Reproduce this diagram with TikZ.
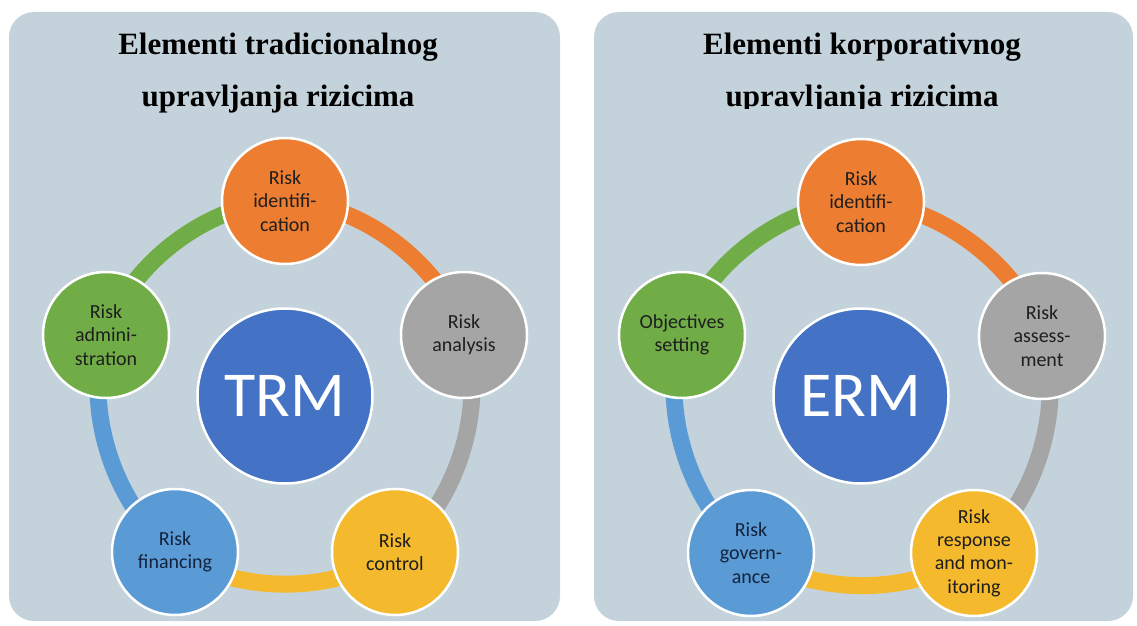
\documentclass[tikz,border=0pt]{standalone}
\usepackage{fontspec}
\newfontfamily\titlefont{Liberation Serif}
\newfontfamily\calib{Carlito}
\definecolor{panelbg}{HTML}{C4D3DB}
\definecolor{corange}{HTML}{ED7D31}
\definecolor{cgray}{HTML}{A5A5A5}
\definecolor{cyellow}{HTML}{F5B92E}
\definecolor{cblue}{HTML}{5B9BD5}
\definecolor{cgreen}{HTML}{70AD47}
\definecolor{ccenter}{HTML}{4472C4}
\definecolor{ctext}{HTML}{1E1E1E}
\definecolor{cnavy}{HTML}{13233D}
\tikzset{
  panel/.style={fill=panelbg, draw=none, rounded corners=25pt},
  titletext/.style={font=\titlefont\bfseries\fontsize{31}{31}\selectfont, anchor=base, inner sep=0pt},
  stepcircle/.style={circle, minimum size=126pt, inner sep=0pt, draw=white, line width=2.5pt,
     align=center, text=ctext, font=\calib\fontsize{20}{23.3}\selectfont},
  hubcircle/.style={circle, minimum size=175pt, inner sep=0pt, draw=white, line width=2.5pt,
     fill=ccenter, text=white, font=\calib\fontsize{64}{64}\selectfont},
  ring/.style={line width=17pt, bend left=36, looseness=0.85},
}
\begin{document}
\begin{tikzpicture}[x=1pt, y=1pt]
\useasboundingbox (0,0) rectangle (1137,625);
\fill[white] (0,0) rectangle (1137,625);
% panels
\path[panel] (9,4) rectangle (560,613);
\path[panel] (594,4) rectangle (1133,613);
% titles
\node[titletext] (lt1) at (278,570) {Elementi tradicionalnog};
\node[titletext] (lt2) at (278,518) {upravljanja rizicima};
\node[titletext] (rt1) at (862,570) {Elementi korporativnog};
\begin{scope}
\clip (600,516) rectangle (1130,560);
\node[titletext] (rt2) at (862,518) {upravljanja rizicima};
\end{scope}
% ---------- left: TRM ----------
\coordinate (lidc) at (285,424);
\coordinate (lanc) at (464,290);
\coordinate (lcoc) at (395,73);
\coordinate (lfic) at (175,73);
\coordinate (ladc) at (106,290);
\draw[ring, corange] (lidc) to (lanc);
\draw[ring, cgray] (lanc) to (lcoc);
\draw[ring, cyellow] (lcoc) to (lfic);
\draw[ring, cblue] (lfic) to (ladc);
\draw[ring, cgreen] (ladc) to (lidc);
\node[stepcircle, fill=corange] (lid) at (lidc) {Risk\\identifi-\\cation};
\node[stepcircle, fill=cgray] (lan) at (lanc) {Risk\\analysis};
\node[stepcircle, fill=cyellow] (lco) at (lcoc) {Risk\\control};
\node[stepcircle, fill=cblue, text=cnavy] (lfi) at (lfic) {Risk\\financing};
\node[stepcircle, fill=cgreen] (lad) at (ladc) {Risk\\admini-\\stration};
\node[hubcircle] (trm) at (285,229) {TRM};
% ---------- right: ERM ----------
\coordinate (ridc) at (861,423);
\coordinate (rasc) at (1042,289);
\coordinate (rrec) at (974,72);
\coordinate (rgoc) at (751,72);
\coordinate (robc) at (682,290);
\draw[ring, corange] (ridc) to (rasc);
\draw[ring, cgray] (rasc) to (rrec);
\draw[ring, cyellow] (rrec) to (rgoc);
\draw[ring, cblue] (rgoc) to (robc);
\draw[ring, cgreen] (robc) to (ridc);
\node[stepcircle, fill=corange] (rid) at (ridc) {Risk\\identifi-\\cation};
\node[stepcircle, fill=cgray] (ras) at (rasc) {Risk\\assess-\\ment};
\node[stepcircle, fill=cyellow] (rre) at (rrec) {Risk\\response\\and mon-\\itoring};
\node[stepcircle, fill=cblue, text=cnavy] (rgo) at (rgoc) {Risk\\govern-\\ance};
\node[stepcircle, fill=cgreen] (rob) at (robc) {Objectives\\setting};
\node[hubcircle] (erm) at (861,229) {ERM};
\end{tikzpicture}
\end{document}
